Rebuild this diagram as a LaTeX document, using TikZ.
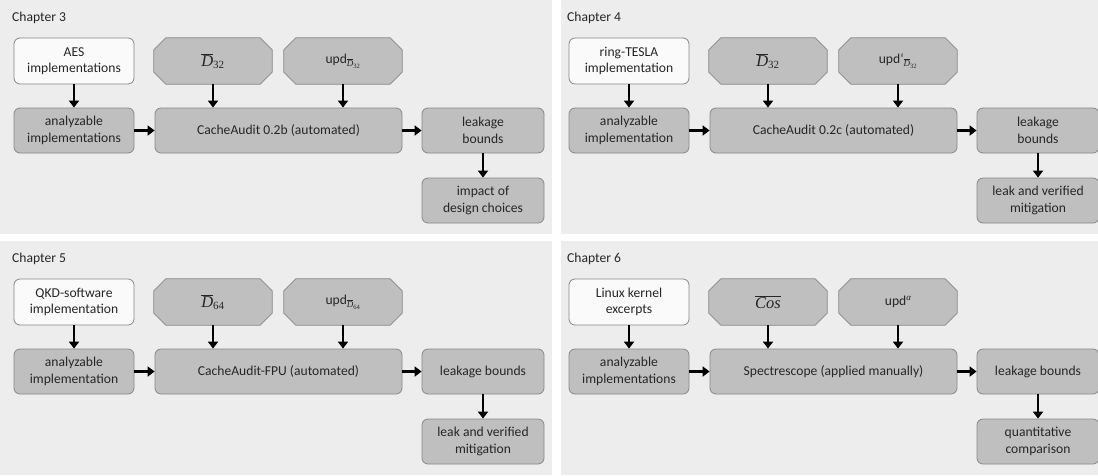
\RequirePackage{fix-cm}
\documentclass[tikz,border=0pt]{standalone}
\usepackage{fontspec}
\setmainfont{Carlito}
\newfontfamily\mf{Liberation Serif}
\usetikzlibrary{arrows.meta}
\definecolor{panelbg}{RGB}{237,237,237}
\definecolor{boxgray}{RGB}{191,191,191}
\definecolor{boxline}{RGB}{135,135,135}
\definecolor{boxwhite}{RGB}{250,250,250}
\newcommand\bfnt{\fontsize{13.6}{16.6}\selectfont}
\newcommand\fs[1]{\fontsize{#1}{#1}\selectfont}
% D-bar with subscript: #1 size of D, #2 size of subscript, #3 digits
\newcommand\Dbar[3]{$\overline{\mbox{\fs{#1}\mf\itshape D}}_{\mbox{\fs{#2}\mf #3}}$}
\tikzset{
  panel/.style={fill=panelbg, draw=none},
  basebox/.style={draw=boxline, line width=0.8pt, rounded corners=6pt, minimum height=45pt, align=center, inner sep=2pt, font=\bfnt, text=black!85},
  whitebox/.style={basebox, fill=boxwhite, minimum width=120pt, minimum height=46pt},
  graybox/.style={basebox, fill=boxgray},
  octshape/.style={draw=boxline, fill=boxgray, line width=0.8pt},
  octtext/.style={font=\bfnt, inner sep=0pt, text=black!85},
  arr/.style={-{Triangle[length=7pt,width=10pt]}, line width=2.6pt, black},
  chap/.style={anchor=base west, font=\bfnt, inner sep=0pt, text=black!85}
}
\newcommand\octnode[4]{%
  \node[minimum width=118pt, minimum height=46pt, inner sep=0pt] (#1) at (#2,#3) {};
  \filldraw[octshape] ([xshift=12pt]#1.north west) -- ([xshift=-12pt]#1.north east)
    -- ([yshift=-12pt]#1.north east) -- ([yshift=12pt]#1.south east)
    -- ([xshift=-12pt]#1.south east) -- ([xshift=12pt]#1.south west)
    -- ([yshift=12pt]#1.south west) -- ([yshift=-12pt]#1.north west) -- cycle;
  \node[octtext] (#1-t) at (#1) {#4};
}
\newcommand\chapterflow[9]{%
  % #1 prefix, #2 chapter, #3 input, #4 oct1, #5 oct2, #6 analyzable, #7 tool, #8 leak, #9 result
  \node[chap] (#1ch) at (12,21) {#2};
  \node[whitebox] (#1in) at (74,61) {#3};
  \octnode{#1o1}{213}{61}{#4}
  \octnode{#1o2}{343}{61}{#5}
  \node[graybox, minimum width=120pt] (#1an) at (74,130.5) {#6};
  \node[graybox, minimum width=247pt] (#1ca) at (278.5,130.5) {#7};
  \node[graybox, minimum width=122pt] (#1lk) at (483,130.5) {#8};
  \node[graybox, minimum width=122pt] (#1rs) at (483,200.5) {#9};
  \draw[arr] (#1in.south) -- (#1an.north);
  \draw[arr] (#1o1.south) -- (#1o1.south |- #1ca.north);
  \draw[arr] (#1o2.south) -- (#1o2.south |- #1ca.north);
  \draw[arr] (#1an.east) -- (#1ca.west);
  \draw[arr] (#1ca.east) -- (#1lk.west);
  \draw[arr] (#1lk.south) -- (#1rs.north);
}
\begin{document}
\begin{tikzpicture}[x=1pt,y=-1pt]
\useasboundingbox (0,0) rectangle (1098,475);
\fill[white] (0,0) rectangle (1098,475);
\fill[panel] (0,0) rectangle (552,234);
\fill[panel] (561,0) rectangle (1098,234);
\fill[panel] (0,241) rectangle (552,475);
\fill[panel] (561,241) rectangle (1098,475);
\begin{scope}
\chapterflow{a}{Chapter 3}{AES\\implementations}{\Dbar{16.5}{11}{32}}{upd\raisebox{-3pt}{\Dbar{9}{6.5}{32}}}{analyzable\\implementations}{CacheAudit 0.2b (automated)}{leakage\\bounds}{impact of\\design choices}
\end{scope}
\begin{scope}[shift={(555,0)}]
\chapterflow{b}{Chapter 4}{ring-TESLA\\implementation}{\Dbar{16.5}{11}{32}}{upd‘\raisebox{-3pt}{\Dbar{9}{6.5}{32}}}{analyzable\\implementation}{CacheAudit 0.2c (automated)}{leakage\\bounds}{leak and verified\\mitigation}
\end{scope}
\begin{scope}[shift={(0,241)}]
\chapterflow{c}{Chapter 5}{QKD-software\\implementation}{\Dbar{16.5}{11}{64}}{upd\raisebox{-3pt}{\Dbar{9}{6.5}{64}}}{analyzable\\implementation}{CacheAudit-FPU (automated)}{leakage bounds}{leak and verified\\mitigation}
\end{scope}
\begin{scope}[shift={(555,241)}]
\chapterflow{d}{Chapter 6}{Linux kernel\\excerpts}{$\overline{\mbox{\fs{16.5}\mf\itshape Cos}}$}{upd\raisebox{5pt}{\fs{9}\mf\itshape α}}{analyzable\\implementations}{Spectrescope (applied manually)}{leakage bounds}{quantitative\\comparison}
\end{scope}
\end{tikzpicture}
\end{document}
